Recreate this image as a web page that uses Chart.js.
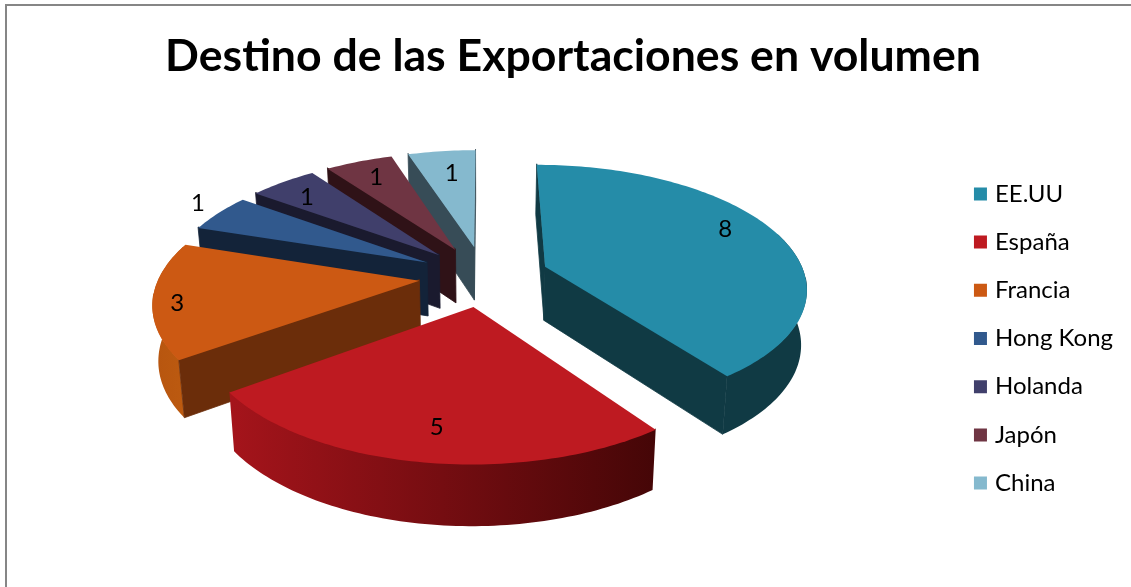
<!DOCTYPE html>
<html>
<head>
<meta charset="utf-8">
<title>Destino de las Exportaciones en volumen</title>
<script src="https://cdn.jsdelivr.net/npm/chart.js@4"></script>
<style>
    html, body { margin: 0; padding: 0; background: #fff; overflow: hidden; }
    #frame {
        position: absolute; left: 5px; top: 4px; right: 0; bottom: 0;
        border-left: 2px solid #868686; border-top: 2px solid #868686;
    }
    #exportChart { position: absolute; left: 0; top: 0; }
</style>
</head>
<body>
<div id="frame"></div>
<canvas id="exportChart" width="1131" height="587"></canvas>
<script>
const chartTitle = 'Destino de las Exportaciones en volumen';
const countries = ['EE.UU', 'España', 'Francia', 'Hong Kong', 'Holanda', 'Japón', 'China'];
const volumes = [8, 5, 3, 1, 1, 1, 1];

// slice colours: top face, straight side walls, curved wall (left to right)
const topColors = ['#258ca8', '#be1a21', '#cc5913', '#31598d', '#403f6b', '#6f3543', '#85b9ce'];
const sideColors = ['#103a44', '#7a0f14', '#6b2d0a', '#132339', '#1a1a2e', '#2f1217', '#374c57'];
const wallLeftColors = ['#103a44', '#a5141b', '#b7550f', '#132339', '#1a1a2e', '#2f1217', '#374c57'];
const wallRightColors = ['#103a44', '#450607', '#bc5a10', '#132339', '#1a1a2e', '#2f1217', '#374c57'];
// where the value label sits: across the slice (0.5 = middle) and out from the tip (1 = rim)
const labelAlong = [0.46, 0.49, 0.46, 0.62, 0.4, 0.5, 0.55];
const labelRadius = [0.82, 0.8, 0.91, 1.14, 0.8, 0.8, 0.74];

// fake 3D camera used to project the pie's flat arcs on the screen
const camera = { cx: 484, cy: 276, sx: 260, sy: 121, persp: 0.16, depth: 54, depthPersp: 0.57, shrink: 0.018 };
const explode = 0.25;

function project(u, v, z) {
    const w = 1 / (1 - camera.persp * v);
    return {
        x: camera.cx + camera.sx * u * w * (1 - camera.shrink * z),
        y: camera.cy + camera.sy * v * w + camera.depth * (1 + camera.depthPersp * (w - 1)) * z
    };
}

// point on a slice: r = 0 is its tip, r = 1 its rim
function slicePoint(arc, angle, r, z) {
    const mid = (arc.startAngle + arc.endAngle) / 2;
    return project(
        Math.cos(mid) * explode + Math.cos(angle) * r,
        Math.sin(mid) * explode + Math.sin(angle) * r,
        z
    );
}

function rimAngles(arc) {
    const angles = [];
    const steps = Math.ceil((arc.endAngle - arc.startAngle) / 0.02);
    for (let i = 0; i <= steps; i++) {
        angles.push(arc.startAngle + (arc.endAngle - arc.startAngle) * i / steps);
    }
    return angles;
}

function fillPolygon(ctx, points, fill) {
    ctx.beginPath();
    points.forEach((p, i) => i ? ctx.lineTo(p.x, p.y) : ctx.moveTo(p.x, p.y));
    ctx.closePath();
    ctx.fillStyle = fill;
    ctx.fill();
}

function drawSideWall(ctx, arc, angle, color) {
    const tip = slicePoint(arc, 0, 0, 0);
    const corner = slicePoint(arc, angle, 1, 0);
    const inside = slicePoint(arc, (arc.startAngle + arc.endAngle) / 2, 0.7, 0);
    // only walls facing the viewer: the slice has to lie above the edge
    const edgeY = tip.y + (corner.y - tip.y) * (inside.x - tip.x) / (corner.x - tip.x);
    if (inside.y >= edgeY) return;
    // starts a little above the edge so the top face hides the seam
    fillPolygon(ctx, [slicePoint(arc, 0, 0, -0.02), slicePoint(arc, angle, 1, -0.02),
        slicePoint(arc, angle, 1, 1), slicePoint(arc, 0, 0, 1)], color);
    ctx.strokeStyle = color;
    ctx.lineWidth = 0.8;
    ctx.stroke();
}

function drawSlice(ctx, arc, index) {
    const angles = rimAngles(arc);
    const front = angles.filter(a => Math.sin(a) > -0.3);
    if (front.length) {
        // the front of the rim is overlapped by the top face, again against seams
        const wallTop = front.map(a => slicePoint(arc, a, 1, Math.sin(a) > 0.1 ? -0.02 : 0));
        const wallBottom = front.map(a => slicePoint(arc, a, 1, 1)).reverse();
        const xs = wallTop.map(p => p.x);
        const gradient = ctx.createLinearGradient(Math.min(...xs), 0, Math.max(...xs), 0);
        gradient.addColorStop(0, wallLeftColors[index]);
        gradient.addColorStop(1, wallRightColors[index]);
        fillPolygon(ctx, wallTop.concat(wallBottom), gradient);
    }
    drawSideWall(ctx, arc, arc.startAngle, sideColors[index]);
    drawSideWall(ctx, arc, arc.endAngle, sideColors[index]);
    const rim = angles.map(a => slicePoint(arc, a, 1, 0));
    fillPolygon(ctx, [slicePoint(arc, 0, 0, 0)].concat(rim), topColors[index]);
}

const pie3d = {
    id: 'pie3d',
    beforeDatasetDraw(chart, args) {
        const ctx = chart.ctx;
        const arcs = args.meta.data;
        // back slices first
        const order = arcs.map((arc, i) => i).sort((a, b) =>
            Math.sin((arcs[a].startAngle + arcs[a].endAngle) / 2) -
            Math.sin((arcs[b].startAngle + arcs[b].endAngle) / 2));
        ctx.save();
        order.forEach(i => drawSlice(ctx, arcs[i], i));

        ctx.font = '24px Lato';
        ctx.fillStyle = '#000';
        ctx.textAlign = 'center';
        ctx.textBaseline = 'middle';
        arcs.forEach((arc, i) => {
            const angle = arc.startAngle + (arc.endAngle - arc.startAngle) * labelAlong[i];
            const p = slicePoint(arc, angle, labelRadius[i], 0);
            ctx.fillText(volumes[i], p.x, p.y);
        });
        ctx.restore();
        return false;
    }
};

new Chart(document.getElementById('exportChart'), {
    type: 'pie',
    plugins: [pie3d],
    data: {
        labels: countries,
        datasets: [{ data: volumes, backgroundColor: topColors, borderWidth: 0 }]
    },
    options: {
        responsive: false,
        animation: false,
        layout: { padding: { left: 23, right: 8, top: 0, bottom: -90 } },
        plugins: {
            title: {
                display: true,
                text: chartTitle,
                color: '#000',
                font: { family: 'Lato', size: 44.6, weight: 'bold' },
                padding: { top: 30, bottom: 20 }
            },
            legend: {
                position: 'right',
                labels: {
                    color: '#000',
                    font: { family: 'Lato', size: 24 },
                    usePointStyle: true,
                    pointStyle: 'rect',
                    boxWidth: 5,
                    boxHeight: 13,
                    padding: 24.2
                }
            },
            tooltip: { enabled: false }
        }
    }
});
</script>
</body>
</html>
